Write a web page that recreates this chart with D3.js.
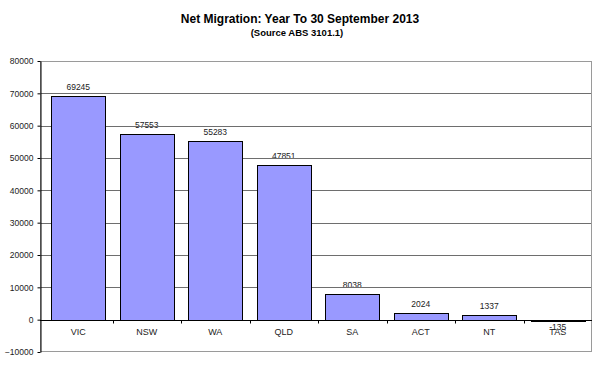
<!DOCTYPE html>
<html><head><meta charset="utf-8">
<script src="https://cdn.jsdelivr.net/npm/d3@7"></script>
<style>body{margin:0;background:#fff;}svg{display:block;font-family:"Liberation Sans",Arial,sans-serif;}</style>
</head><body>
<script>
const categories = ["VIC","NSW","WA","QLD","SA","ACT","NT","TAS"];
const values = [69245,57553,55283,47851,8038,2024,1337,-135];
const yTicks = [-10000,0,10000,20000,30000,40000,50000,60000,70000,80000];
const title = "Net Migration: Year To 30 September 2013";
const subtitle = "(Source ABS 3101.1)";

const W=600,H=368;
const plotL=40, plotR=592, bandL=44;
const m={top:61,bottom:16};
const svg=d3.select("body").append("svg").attr("width",W).attr("height",H);
const x=d3.scaleBand().domain(categories).range([bandL,plotR]).paddingInner(0.21).paddingOuter(0.105);
const y=d3.scaleLinear().domain([-10000,80000]).range([H-m.bottom,m.top]);

svg.append("text").attr("x",300).attr("y",23).attr("text-anchor","middle").attr("font-weight","bold").attr("font-size",12).text(title);
svg.append("text").attr("x",297).attr("y",36).attr("text-anchor","middle").attr("font-weight","bold").attr("font-size",9.5).text(subtitle);

// value labels (drawn under gridlines)
svg.selectAll(".vl").data(values).enter().append("text")
 .attr("x",(d,i)=>x(categories[i])+x.bandwidth()/2)
 .attr("y",d=>d>=0?y(d)-6:y(0)+10)
 .attr("text-anchor","middle").attr("font-size",8.5).attr("fill","#222").text(d=>d);

// gridlines
svg.append("g").selectAll("line").data(yTicks.filter(t=>t>0&&t<80000)).enter().append("line")
 .attr("x1",plotL).attr("x2",plotR).attr("y1",d=>Math.round(y(d))+0.5).attr("y2",d=>Math.round(y(d))+0.5)
 .attr("stroke","#6e6e6e").attr("stroke-width",1);
// plot border
svg.append("rect").attr("x",plotL+0.5).attr("y",Math.round(y(80000))+0.5).attr("width",plotR-plotL-1).attr("height",Math.round(y(-10000))-Math.round(y(80000))-1)
 .attr("fill","none").attr("stroke","#9a9a9a");

// bars
svg.selectAll(".bar").data(values).enter().append("rect")
 .attr("x",(d,i)=>Math.round(x(categories[i]))+0.5)
 .attr("y",d=>Math.round(y(Math.max(0,d)))+0.5)
 .attr("width",Math.round(x.bandwidth()))
 .attr("height",d=>Math.max(1,Math.abs(Math.round(y(d))-Math.round(y(0)))))
 .attr("fill","#9999ff").attr("stroke","#000").attr("stroke-width",1);

// zero axis with category ticks
const zy=Math.round(y(0))+0.5;
svg.append("line").attr("x1",plotL).attr("x2",plotR).attr("y1",zy).attr("y2",zy).attr("stroke","#000");
const step=x.step();
const bounds=categories.map(c=>x(c)-x.paddingInner()*step/2);
svg.selectAll(".ct").data(bounds.slice(1)).enter().append("line")
 .attr("x1",d=>Math.round(d)+0.5).attr("x2",d=>Math.round(d)+0.5).attr("y1",zy).attr("y2",zy+3).attr("stroke","#000");

// category labels
svg.selectAll(".cl").data(categories).enter().append("text")
 .attr("x",d=>x(d)+x.bandwidth()/2).attr("y",zy+14).attr("text-anchor","middle").attr("font-size",9).attr("fill","#222").text(d=>d);

// y axis
const ya=svg.append("g").attr("transform",`translate(${plotL+0.5},0)`).call(d3.axisLeft(y).tickValues(yTicks).tickSize(3).tickSizeOuter(0).tickFormat(d3.format("d")));
ya.select(".domain").attr("stroke","#000");
ya.selectAll("line").attr("stroke","#000");
ya.selectAll("text").attr("font-size",8.5).attr("font-family","Liberation Sans, Arial, sans-serif").attr("fill","#222").attr("dx","-1");
</script>
</body></html>
